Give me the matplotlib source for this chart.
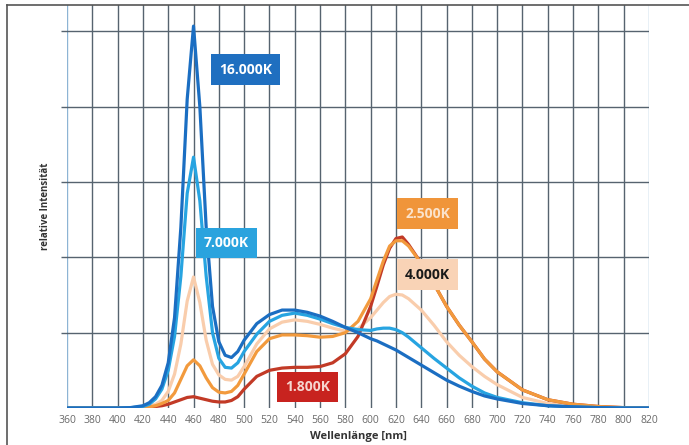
import numpy as np
import matplotlib.pyplot as plt
from matplotlib.lines import Line2D

# wavelengths in nm
wl = [360, 380, 400, 410, 420, 425, 430, 435, 440, 445, 450, 455, 460, 465, 470,
      475, 480, 485, 490, 495, 500, 510, 520, 530, 540, 550, 560, 570, 580, 590,
      600, 605, 610, 615, 620, 625, 630, 640, 650, 660, 670, 680, 690, 700, 720,
      740, 760, 780, 800, 820]

k16000 = [0, 0, 0, 0.005, 0.03, 0.07, 0.15, 0.3, 0.6, 1.2, 2.4, 4.1, 5.07, 4.0, 2.4,
          1.35, 0.88, 0.7, 0.67, 0.75, 0.9, 1.12, 1.24, 1.3, 1.3, 1.27, 1.22, 1.15, 1.07, 1.0,
          0.92, 0.89, 0.85, 0.81, 0.77, 0.72, 0.67, 0.57, 0.47, 0.37, 0.29, 0.22, 0.16, 0.12, 0.06,
          0.03, 0.015, 0.005, 0, 0]
k7000 = [0, 0, 0, 0.003, 0.02, 0.05, 0.12, 0.25, 0.5, 0.95, 1.75, 2.85, 3.33, 2.75, 1.75,
         1.0, 0.66, 0.54, 0.53, 0.6, 0.75, 0.98, 1.15, 1.23, 1.26, 1.23, 1.18, 1.12, 1.07, 1.04,
         1.03, 1.05, 1.06, 1.06, 1.04, 1.0, 0.94, 0.8, 0.66, 0.53, 0.4, 0.29, 0.2, 0.14, 0.07,
         0.03, 0.015, 0.005, 0, 0]
k4000 = [0, 0, 0, 0, 0.01, 0.03, 0.05, 0.1, 0.22, 0.45, 0.85, 1.42, 1.74, 1.4, 0.9,
         0.58, 0.44, 0.38, 0.37, 0.42, 0.55, 0.85, 1.05, 1.14, 1.17, 1.15, 1.11, 1.06, 1.02, 1.05,
         1.2, 1.3, 1.4, 1.48, 1.51, 1.5, 1.45, 1.3, 1.1, 0.88, 0.7, 0.55, 0.42, 0.31, 0.14,
         0.06, 0.03, 0.01, 0, 0]
k2500 = [0, 0, 0, 0, 0.005, 0.015, 0.03, 0.06, 0.1, 0.2, 0.38, 0.56, 0.64, 0.56, 0.4,
         0.27, 0.21, 0.2, 0.22, 0.3, 0.45, 0.75, 0.92, 0.97, 0.97, 0.96, 0.94, 0.95, 1.0, 1.15,
         1.45, 1.7, 1.95, 2.15, 2.22, 2.22, 2.15, 1.92, 1.65, 1.35, 1.1, 0.88, 0.65, 0.48, 0.24,
         0.11, 0.05, 0.02, 0.005, 0]
k1800 = [0, 0, 0, 0, 0.005, 0.01, 0.02, 0.03, 0.05, 0.08, 0.11, 0.14, 0.15, 0.13, 0.11,
         0.09, 0.08, 0.08, 0.1, 0.15, 0.25, 0.42, 0.5, 0.53, 0.54, 0.54, 0.55, 0.6, 0.72, 0.95,
         1.35, 1.62, 1.9, 2.12, 2.25, 2.27, 2.17, 1.92, 1.65, 1.35, 1.1, 0.88, 0.65, 0.48, 0.24,
         0.11, 0.05, 0.02, 0.005, 0]

xticks = list(range(360, 821, 20))

c16 = '#1b6ec2'
c7 = '#27a4e1'
c40 = '#f9cdac'
c25 = '#f29a3d'
c18 = '#c23a26'

plt.rcParams['font.family'] = ['Open Sans', 'DejaVu Sans']

fig = plt.figure(figsize=(6.89, 4.45), dpi=100)
ax = fig.add_axes([67 / 689, 37 / 445, 582 / 689, 403 / 445])

gridc = '#56636f'
for x in xticks:
    col = '#8db4d4' if x in (360, 820) else gridc
    ax.axvline(x, color=col, lw=1.0, zorder=0)
for y in range(1, 6):
    ax.axhline(y, color=gridc, lw=1.0, zorder=0)

lw = 2.3
ax.plot(wl, k4000, color=c40, lw=lw, zorder=2, solid_joinstyle='round')
ax.plot(wl, k1800, color=c18, lw=lw, zorder=3, solid_joinstyle='round')
ax.plot(wl, k2500, color=c25, lw=lw, zorder=4, solid_joinstyle='round')
ax.plot(wl, k7000, color=c7, lw=lw, zorder=5, solid_joinstyle='round')
ax.plot(wl, k16000, color=c16, lw=lw, zorder=6, solid_joinstyle='round')

ax.set_xlim(360, 820)
ax.set_ylim(0, 5.35)
ax.set_xticks(xticks)
ax.set_yticks([1, 2, 3, 4, 5])
ax.set_yticklabels([])
ax.tick_params(axis='x', length=0, labelsize=7.5, labelcolor='#6a6a6a', pad=5)
ax.tick_params(axis='y', length=4, color=gridc, width=1.0)
for s in ax.spines.values():
    s.set_visible(False)

ax.set_xlabel('Wellenlänge [nm]', fontsize=8, fontweight='bold', color='#333333', labelpad=4)
ax.set_ylabel('relative Intensität', fontsize=7, fontweight='bold', color='#333333', labelpad=4)

def label(x, y, txt, bg, fg):
    ax.text(x, y, txt, ha='center', va='center', fontsize=10, fontweight='bold', color=fg,
            zorder=10, bbox=dict(boxstyle='square,pad=0.6', fc=bg, ec='none'))

label(501, 4.49, '16.000K', '#1f6fc0', 'white')
label(486, 2.19, '7.000K', '#2aa3de', 'white')
label(645, 2.58, '2.500K', '#f0953a', '#fbe3cc')
label(645, 1.77, '4.000K', '#f9d3b6', '#1a1a1a')
label(550, 0.28, '1.800K', '#c8231f', '#f6d6d0')

# frame lines on left and top of the page
fig.add_artist(Line2D([7 / 689, 7 / 689], [0, 440 / 445], color='#555555', lw=1.2))
fig.add_artist(Line2D([7 / 689, 1], [440 / 445, 440 / 445], color='#555555', lw=1.2))

fig.savefig('out.png', dpi=100)
